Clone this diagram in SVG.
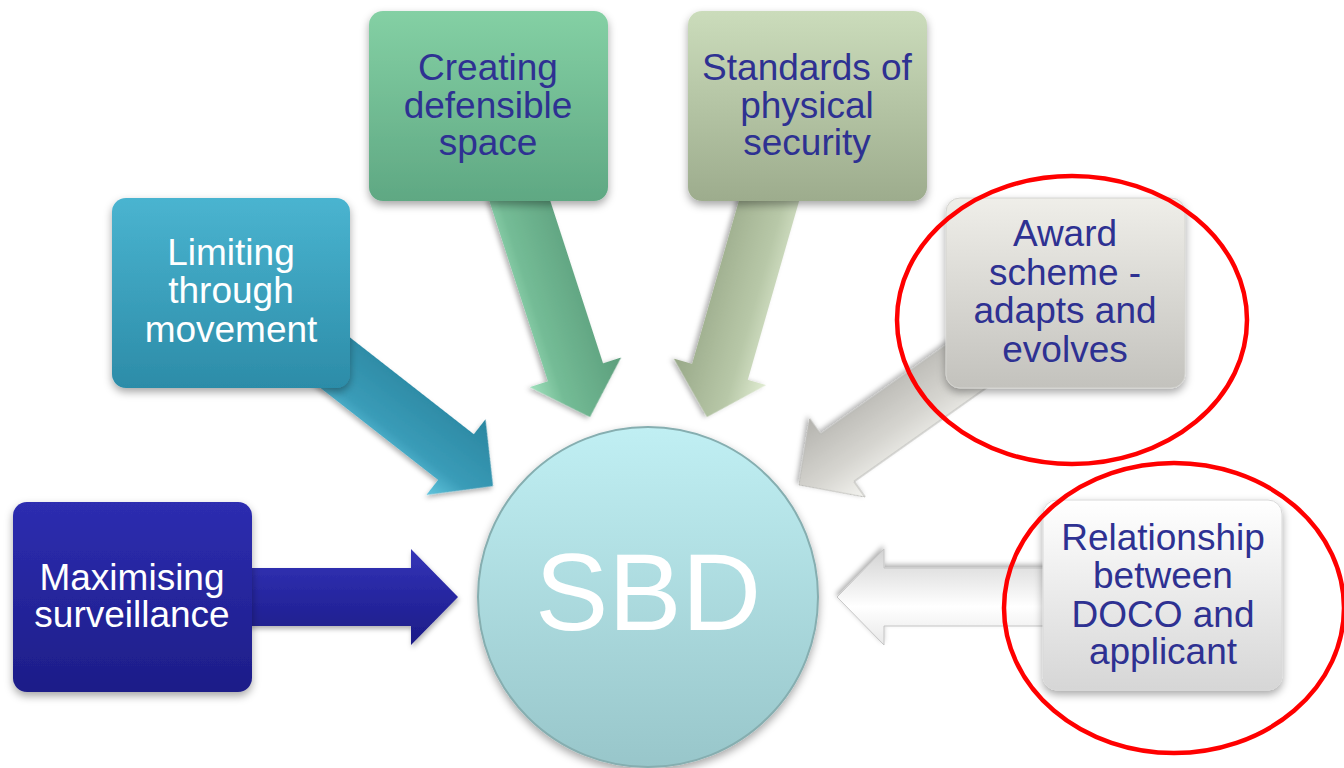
<svg xmlns="http://www.w3.org/2000/svg" width="1344" height="768" viewBox="0 0 1344 768">
  <defs>
    <style>
      .lbl { font-family: "Liberation Sans", Arial, sans-serif; font-size: 37px; text-anchor: middle; }
      .light { fill: #ffffff; }
      .dark { fill: #2e3192; }
      .box { filter: url(#shadow); }
      .arrow { filter: url(#ashadow); }
      .ring { fill: none; stroke: #ff0000; stroke-width: 4.5; }
    </style>
    <filter id="shadow" x="-20%" y="-20%" width="140%" height="150%">
      <feDropShadow dx="0" dy="4" stdDeviation="4" flood-color="#000000" flood-opacity="0.35"/>
    </filter>
    <filter id="ashadow" x="-20%" y="-30%" width="140%" height="160%">
      <feDropShadow dx="1" dy="3" stdDeviation="2.5" flood-color="#000000" flood-opacity="0.3"/>
    </filter>
    <path id="arr" d="M -240,-29 L -47,-29 L -47,-48 L 0,0 L -47,48 L -47,29 L -240,29 Z"/>
    <linearGradient id="gBlue" x1="0" y1="0" x2="0" y2="1"><stop offset="0" stop-color="#2d2db0"/><stop offset="1" stop-color="#1d1d88"/></linearGradient>
    <linearGradient id="gTeal" x1="0" y1="0" x2="0" y2="1"><stop offset="0" stop-color="#4ab4d0"/><stop offset="1" stop-color="#2c8ca8"/></linearGradient>
    <linearGradient id="gGreen" x1="0" y1="0" x2="0" y2="1"><stop offset="0" stop-color="#84d0a4"/><stop offset="1" stop-color="#5fa883"/></linearGradient>
    <linearGradient id="gOlive" x1="0" y1="0" x2="0" y2="1"><stop offset="0" stop-color="#cbdcbb"/><stop offset="1" stop-color="#9dac8d"/></linearGradient>
    <linearGradient id="gGray" x1="0" y1="0" x2="0" y2="1"><stop offset="0" stop-color="#efeee9"/><stop offset="1" stop-color="#c3c2bd"/></linearGradient>
    <linearGradient id="gWhite" x1="0" y1="0" x2="0" y2="1"><stop offset="0" stop-color="#ffffff"/><stop offset="1" stop-color="#d6d6d6"/></linearGradient>
    <linearGradient id="gCircle" x1="0" y1="0" x2="0" y2="1"><stop offset="0" stop-color="#c0eff3"/><stop offset="1" stop-color="#98c6ca"/></linearGradient>
    <linearGradient id="aBlue" x1="0" y1="0" x2="0" y2="1"><stop offset="0" stop-color="#3535b8"/><stop offset="0.5" stop-color="#2626a0"/><stop offset="1" stop-color="#1c1c86"/></linearGradient>
    <linearGradient id="aTeal" x1="0" y1="1" x2="0" y2="0"><stop offset="0" stop-color="#62c6de"/><stop offset="0.3" stop-color="#3a9cb8"/><stop offset="1" stop-color="#2a86a0"/></linearGradient>
    <linearGradient id="aGreen" x1="0" y1="1" x2="0" y2="0"><stop offset="0" stop-color="#a0e0bc"/><stop offset="0.3" stop-color="#74bc96"/><stop offset="1" stop-color="#5c9e7c"/></linearGradient>
    <linearGradient id="aOlive" x1="0" y1="0" x2="0" y2="1"><stop offset="0" stop-color="#e0ecd2"/><stop offset="0.35" stop-color="#b8c8a8"/><stop offset="1" stop-color="#98a888"/></linearGradient>
    <linearGradient id="aGray" x1="0" y1="0" x2="0" y2="1"><stop offset="0" stop-color="#f4f4f0"/><stop offset="0.4" stop-color="#d6d5d0"/><stop offset="1" stop-color="#b4b3ae"/></linearGradient>
    <linearGradient id="aWhite" x1="0" y1="0" x2="0" y2="1"><stop offset="0" stop-color="#e8e8e8"/><stop offset="0.4" stop-color="#ffffff"/><stop offset="1" stop-color="#d2d2d2"/></linearGradient>
  </defs>

  <rect width="1344" height="768" fill="#ffffff"/>

  <g id="connectors">
    <use href="#arr" class="arrow" fill="url(#aBlue)" transform="translate(458,597)"/>
    <use href="#arr" class="arrow" fill="url(#aTeal)" transform="translate(493,486) rotate(38)"/>
    <use href="#arr" class="arrow" fill="url(#aGreen)" transform="translate(590,417) rotate(72)"/>
    <use href="#arr" class="arrow" fill="url(#aOlive)" transform="translate(707,417) rotate(106)"/>
    <use href="#arr" class="arrow" fill="url(#aGray)" stroke="#b8b8b4" stroke-width="1" transform="translate(799,485) rotate(144.7)"/>
    <use href="#arr" class="arrow" fill="url(#aWhite)" stroke="#c4c4c4" stroke-width="1" transform="translate(837,597) rotate(180)"/>
  </g>

  <g id="node-sbd">
    <circle cx="648" cy="597" r="170" fill="url(#gCircle)" stroke="#86aeb0" stroke-width="2" class="box"/>
    <text x="648" y="630" font-family="Liberation Sans, Arial, sans-serif" font-size="110" text-anchor="middle" fill="#ffffff">SBD</text>
  </g>

  <g id="node-surveillance">
    <rect x="13" y="502" width="239" height="190" rx="14" fill="url(#gBlue)" class="box"/>
    <text class="lbl light" x="132" y="590">Maximising</text>
    <text class="lbl light" x="132" y="627">surveillance</text>
  </g>

  <g id="node-movement">
    <rect x="112" y="198" width="238" height="190" rx="14" fill="url(#gTeal)" class="box"/>
    <text class="lbl light" x="231" y="265">Limiting</text>
    <text class="lbl light" x="231" y="303">through</text>
    <text class="lbl light" x="231" y="342">movement</text>
  </g>

  <g id="node-defensible">
    <rect x="369" y="11" width="239" height="190" rx="14" fill="url(#gGreen)" class="box"/>
    <text class="lbl dark" x="488" y="80">Creating</text>
    <text class="lbl dark" x="488" y="118">defensible</text>
    <text class="lbl dark" x="488" y="155">space</text>
  </g>

  <g id="node-standards">
    <rect x="688" y="11" width="239" height="190" rx="14" fill="url(#gOlive)" class="box"/>
    <text class="lbl dark" x="807" y="80">Standards of</text>
    <text class="lbl dark" x="807" y="118">physical</text>
    <text class="lbl dark" x="807" y="155">security</text>
  </g>

  <g id="node-award">
    <rect x="946" y="198" width="239" height="190" rx="14" fill="url(#gGray)" stroke="#d4d4d0" stroke-width="1" class="box"/>
    <text class="lbl dark" x="1065" y="246">Award</text>
    <text class="lbl dark" x="1065" y="285">scheme -</text>
    <text class="lbl dark" x="1065" y="323">adapts and</text>
    <text class="lbl dark" x="1065" y="362">evolves</text>
  </g>

  <g id="node-relationship">
    <rect x="1043" y="500" width="239" height="190" rx="14" fill="url(#gWhite)" stroke="#d8d8d8" stroke-width="1" class="box"/>
    <text class="lbl dark" x="1163" y="550">Relationship</text>
    <text class="lbl dark" x="1163" y="588">between</text>
    <text class="lbl dark" x="1163" y="627">DOCO and</text>
    <text class="lbl dark" x="1163" y="664">applicant</text>
  </g>

  <g id="highlights">
    <ellipse class="ring" cx="1072" cy="320" rx="175" ry="144"/>
    <ellipse class="ring" cx="1174" cy="608" rx="170" ry="145"/>
  </g>
</svg>
